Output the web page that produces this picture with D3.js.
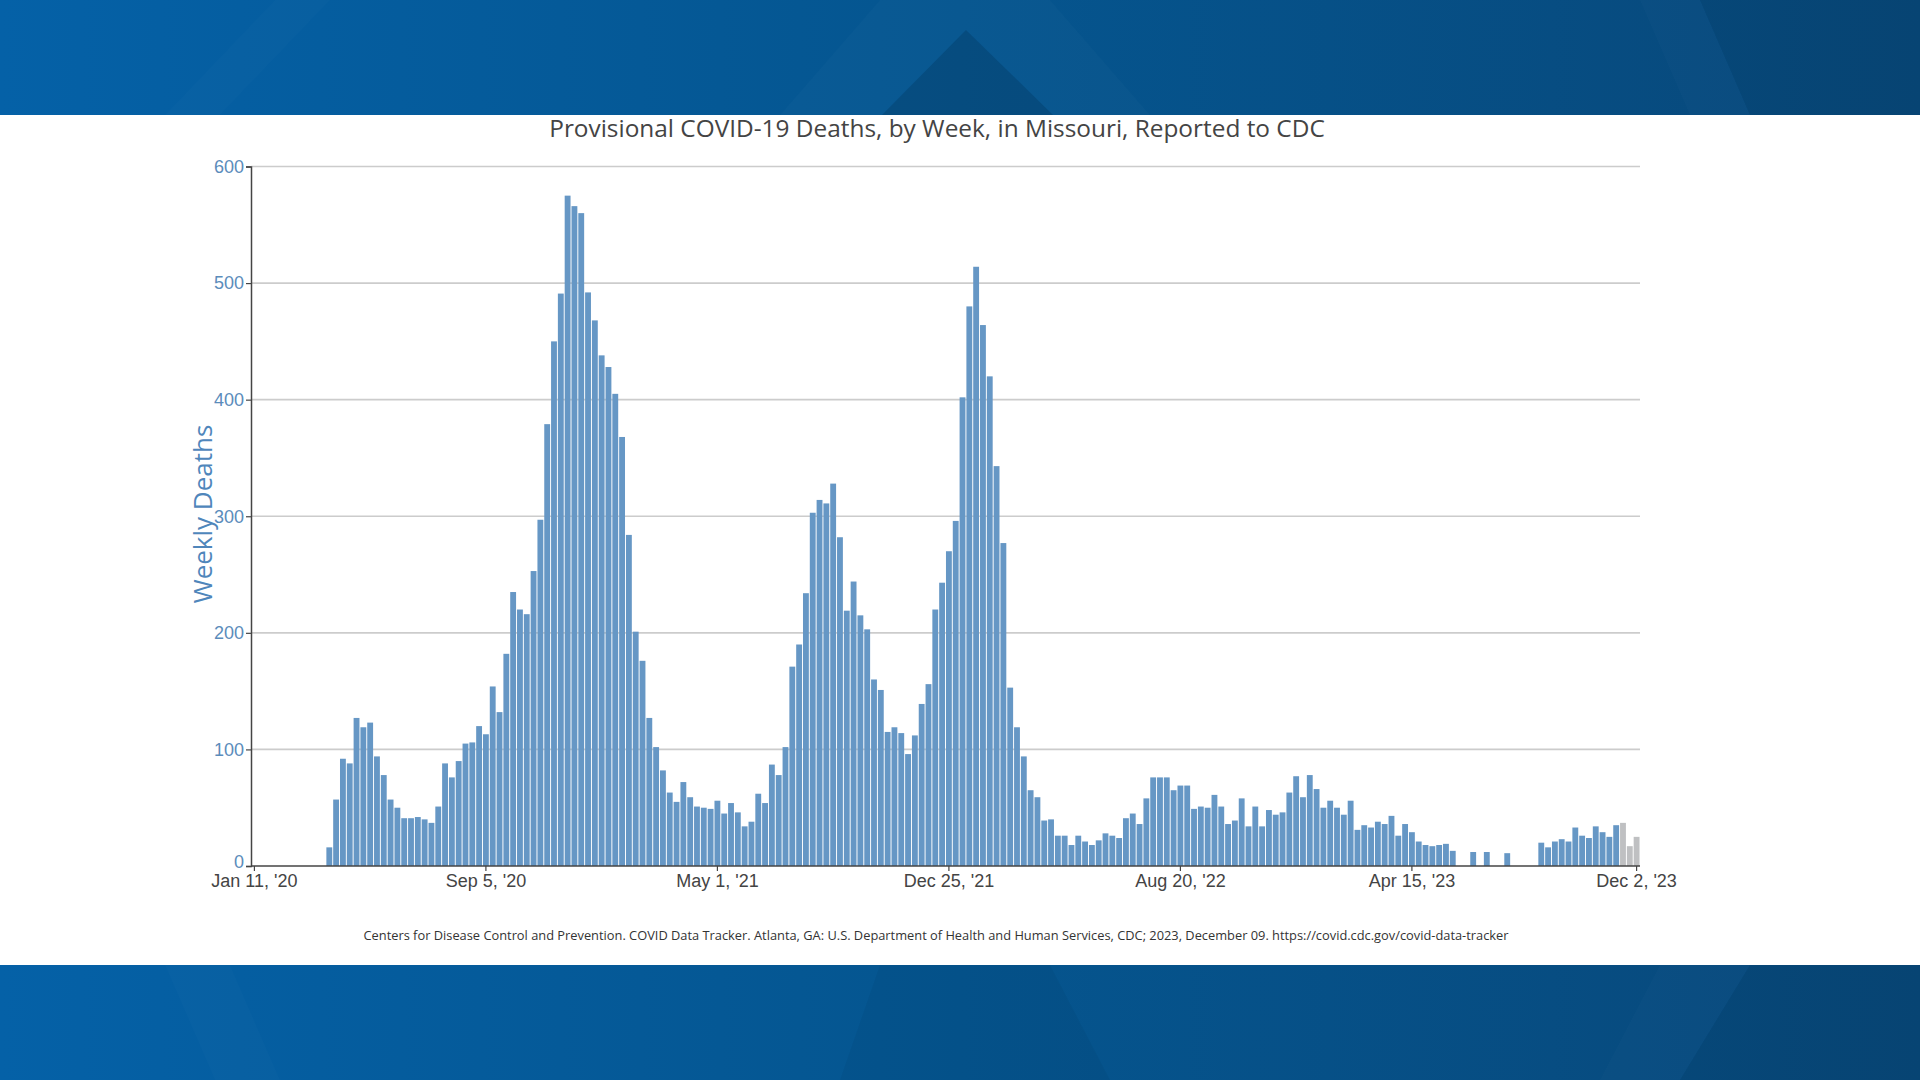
<!DOCTYPE html>
<html>
<head>
<meta charset="utf-8">
<script src="https://cdn.jsdelivr.net/npm/d3@7"></script>
<style>
  html, body { margin: 0; padding: 0; background: #ffffff; }
  svg { display: block; }
</style>
</head>
<body>
<svg id="chart" width="1920" height="1080"></svg>
<script>
// ---------------- DATA ----------------
const startWeek = new Date(2020, 0, 11);   // first week ending
const weekCount = 204;
const fmt = d3.timeFormat("%b %-d, '%y");
const weeks = d3.range(weekCount).map(i => fmt(d3.timeWeek.offset(startWeek, i)));

// Weekly deaths (null = no bar shown)
const deaths = [
  null, null, null, null, null, null, null, null, null, null, null,
  16, 57, 92, 88, 127, 119, 123, 94, 78, 57,
  50, 41, 41, 42, 40, 37, 51, 88, 76, 90,
  105, 106, 120, 113, 154, 132, 182, 235, 220, 216,
  253, 297, 379, 450, 491, 575, 566, 560, 492, 468,
  438, 428, 405, 368, 284, 201, 176, 127, 102, 82,
  63, 55, 72, 59, 51, 50, 49, 56, 45, 54,
  46, 34, 38, 62, 54, 87, 78, 102, 171, 190,
  234, 303, 314, 311, 328, 282, 219, 244, 215, 203,
  160, 151, 115, 119, 114, 96, 112, 139, 156, 220,
  243, 270, 296, 402, 480, 514, 464, 420, 343, 277,
  153, 119, 94, 65, 59, 39, 40, 26, 26, 18,
  26, 21, 18, 22, 28, 26, 24, 41, 45, 36,
  58, 76, 76, 76, 65, 69, 69, 49, 51, 50,
  61, 51, 36, 39, 58, 34, 51, 34, 48, 44,
  46, 63, 77, 59, 78, 66, 50, 56, 50, 44,
  56, 31, 35, 33, 38, 36, 43, 26, 36, 29,
  21, 18, 17, 18, 19, 13, null, null, 12, null,
  12, null, null, 11, null, null, null, null, 20, 16,
  21, 23, 21, 33, 26, 24, 34, 29, 25, 35,
  37, 17, 25
];

// Most recent weeks with incomplete data (drawn in gray)
const incompleteWeeks = ["Nov 18, '23", "Nov 25, '23", "Dec 2, '23"];

const xTickLabels = ["Jan 11, '20", "Sep 5, '20", "May 1, '21", "Dec 25, '21", "Aug 20, '22", "Apr 15, '23", "Dec 2, '23"];
const yTicks = [0, 100, 200, 300, 400, 500, 600];

const titleText = "Provisional COVID-19 Deaths, by Week, in Missouri, Reported to CDC";
const yTitle = "Weekly Deaths";
const sourceText = "Centers for Disease Control and Prevention. COVID Data Tracker. Atlanta, GA: U.S. Department of Health and Human Services, CDC; 2023, December 09. https://covid.cdc.gov/covid-data-tracker";

// ---------------- DRAW ----------------
const svg = d3.select("#chart");
const W = 1920, H = 1080;

const defs = svg.append("defs");
const grad = defs.append("linearGradient").attr("id", "bandGrad")
  .attr("x1", "0%").attr("x2", "100%").attr("y1", "0%").attr("y2", "0%");
grad.append("stop").attr("offset", "0%").attr("stop-color", "#0561a7");
grad.append("stop").attr("offset", "50%").attr("stop-color", "#05558f");
grad.append("stop").attr("offset", "100%").attr("stop-color", "#08487a");

// bands
const topH = 115, botY = 965;
svg.append("rect").attr("x", 0).attr("y", 0).attr("width", W).attr("height", topH).attr("fill", "url(#bandGrad)");
svg.append("rect").attr("x", 0).attr("y", botY).attr("width", W).attr("height", H - botY).attr("fill", "url(#bandGrad)");

// decorative facets
const facets = [
  {pts: [[165, topH], [275, 0], [330, 0], [220, topH]], fill: "#ffffff", op: 0.015},
  {pts: [[780, topH], [880, 0], [1050, 0], [1150, topH]], fill: "#ffffff", op: 0.02},
  {pts: [[882, topH], [966, 30], [1053, topH]], fill: "#02365e", op: 0.35},
  {pts: [[1640, 0], [1700, 0], [1750, topH], [1690, topH]], fill: "#ffffff", op: 0.015},
  {pts: [[1700, 0], [W, 0], [W, topH], [1750, topH]], fill: "#000000", op: 0.05},
  {pts: [[165, botY], [230, botY], [280, H], [215, H]], fill: "#ffffff", op: 0.015},
  {pts: [[880, botY], [1050, botY], [1110, H], [840, H]], fill: "#000000", op: 0.04},
  {pts: [[1660, botY], [1750, botY], [1680, H], [1600, H]], fill: "#ffffff", op: 0.015},
  {pts: [[1750, botY], [W, botY], [W, H], [1680, H]], fill: "#000000", op: 0.05}
];
svg.append("g").selectAll("polygon").data(facets).join("polygon")
  .attr("points", d => d.pts.map(p => p.join(",")).join(" "))
  .attr("fill", d => d.fill).attr("opacity", d => d.op);

// white panel
svg.append("rect").attr("x", 0).attr("y", topH).attr("width", W).attr("height", botY - topH).attr("fill", "#ffffff");

// scales
const x0 = 251, x1 = 1640, y0 = 866, y1 = 166.5;
const x = d3.scaleBand().domain(weeks).range([x0, x1]).paddingInner(0.14).paddingOuter(0.07);
const y = d3.scaleLinear().domain([0, 600]).range([y0, y1]);

// gridlines
svg.append("g").selectAll("line").data(yTicks.filter(t => t > 0)).join("line")
  .attr("x1", x0).attr("x2", x1)
  .attr("y1", d => y(d)).attr("y2", d => y(d))
  .attr("stroke", "#cccccc").attr("stroke-width", 1.6);

// bars
const rows = weeks.map((w, i) => ({week: w, value: deaths[i]})).filter(d => d.value != null);
svg.append("g").selectAll("rect").data(rows).join("rect")
  .attr("x", d => x(d.week))
  .attr("width", x.bandwidth())
  .attr("y", d => y(d.value))
  .attr("height", d => y(0) - y(d.value))
  .attr("fill", d => incompleteWeeks.includes(d.week) ? "#bfc0c2" : "#6697c5");

// y axis
const yAxis = svg.append("g").attr("transform", `translate(${x0},0)`)
  .call(d3.axisLeft(y).tickValues(yTicks).tickSize(5).tickPadding(2).tickFormat(d3.format("d")));
yAxis.select(".domain").attr("stroke", "#444444").attr("stroke-width", 1.5);
yAxis.selectAll(".tick line").attr("stroke", "#444444").attr("stroke-width", 1.2);
yAxis.selectAll(".tick text")
  .attr("fill", "#5b8cbb")
  .attr("font-family", "'Liberation Sans', Arial, sans-serif")
  .attr("font-size", 18);
yAxis.selectAll(".tick").filter(d => d === 0).select("text").attr("dy", "0.1em");

// x axis
const xAxis = svg.append("g").attr("transform", `translate(0,${y0})`)
  .call(d3.axisBottom(x).tickValues(xTickLabels).tickSize(5).tickPadding(3).tickSizeOuter(0));
xAxis.select(".domain").attr("stroke", "#444444").attr("stroke-width", 1.5)
  .attr("d", `M${x0},0H${x1}`);
xAxis.selectAll(".tick line").attr("stroke", "#444444").attr("stroke-width", 1.2);
xAxis.selectAll(".tick text")
  .attr("fill", "#444444")
  .attr("font-family", "'Liberation Sans', Arial, sans-serif")
  .attr("font-size", 18);

// title
svg.append("text")
  .attr("x", 937).attr("y", 137)
  .attr("text-anchor", "middle")
  .attr("font-family", "'Open Sans', sans-serif")
  .attr("font-size", 24.4)
  .attr("fill", "#444444")
  .text(titleText);

// y title
svg.append("text")
  .attr("transform", "translate(212,514) rotate(-90)")
  .attr("text-anchor", "middle")
  .attr("font-family", "'Open Sans', sans-serif")
  .attr("font-size", 26)
  .attr("fill", "#4f86bb")
  .text(yTitle);

// source footnote
svg.append("text")
  .attr("x", 936).attr("y", 940)
  .attr("text-anchor", "middle")
  .attr("font-family", "'Open Sans', sans-serif")
  .attr("font-size", 12)
  .attr("textLength", 1145)
  .attr("lengthAdjust", "spacingAndGlyphs")
  .attr("fill", "#333333")
  .text(sourceText);
</script>
</body>
</html>
